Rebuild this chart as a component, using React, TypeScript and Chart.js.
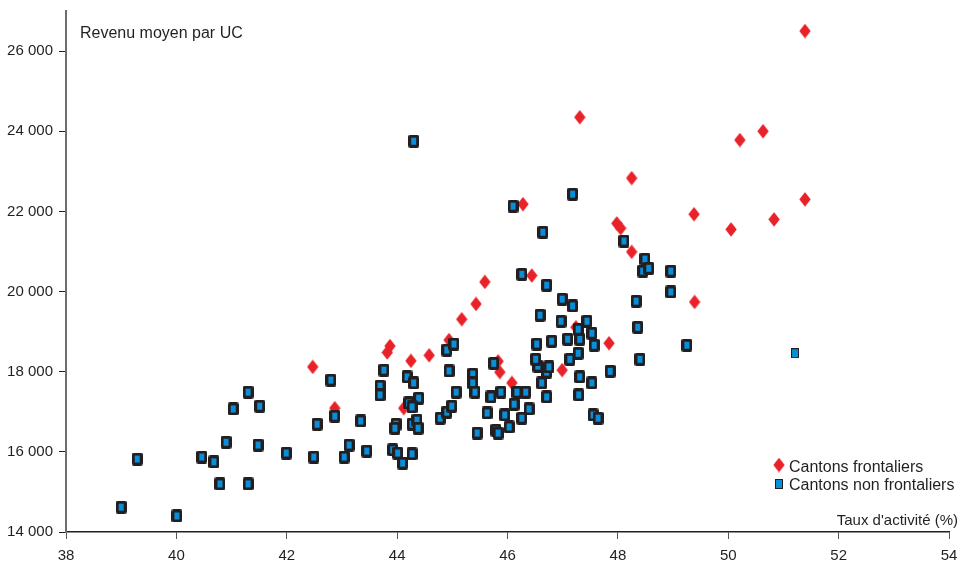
import React, { useEffect, useRef } from 'react';
import { Chart, registerables } from 'chart.js';

Chart.register(...registerables);

// Cantons frontaliers (red diamonds)
const frontaliersX = [51.39, 47.31, 50.21, 50.63, 48.25, 46.28, 49.38, 51.39, 47.98, 48.05, 50.05, 50.83, 48.25, 46.44, 45.59, 45.43, 45.17, 49.39, 47.24, 47.84, 43.87, 43.82, 44.58, 44.25, 42.47, 45.83, 45.86, 46.99, 46.08, 42.87, 44.12, 44.94];
const frontaliersY = [26500, 24350, 23780, 24000, 22830, 22180, 21930, 22300, 21700, 21580, 21550, 21800, 20990, 20400, 20240, 19690, 19310, 19740, 19110, 18710, 18640, 18480, 18410, 18270, 18120, 18260, 17990, 18040, 17720, 17090, 17090, 18790];

// Cantons non frontaliers (blue squares)
const nonFrontaliersX = [39.00, 39.29, 40.01, 40.46, 40.68, 40.79, 40.90, 41.03, 41.30, 41.30, 41.51, 41.48, 41.99, 42.49, 42.55, 42.80, 42.87, 43.34, 43.13, 43.04, 43.45, 43.76, 43.69, 43.69, 43.98, 43.96, 43.92, 44.01, 44.10, 44.27, 44.18, 44.30, 44.39, 44.21, 44.27, 44.27, 44.36, 44.38, 44.78, 44.90, 44.99, 44.94, 44.90, 45.03, 45.37, 45.37, 45.41, 45.45, 45.07, 45.75, 45.70, 45.88, 46.17, 46.33, 46.12, 46.39, 46.26, 45.63, 45.95, 46.03, 45.79, 45.83, 46.62, 46.71, 47.29, 47.53, 47.55, 47.64, 47.31, 47.86, 46.71, 46.75, 46.55, 46.51, 47.13, 47.28, 46.53, 46.80, 47.09, 47.31, 47.57, 47.53, 47.28, 47.44, 46.97, 46.59, 47.18, 46.99, 46.71, 46.26, 46.10, 46.64, 47.18, 44.30, 48.11, 48.49, 48.45, 48.56, 48.96, 48.96, 48.33, 48.36, 48.40, 49.25, 51.21];
const nonFrontaliersY = [14620, 15820, 14400, 15870, 15750, 15200, 16240, 17070, 17490, 15200, 17140, 16170, 15970, 15870, 16690, 17790, 16890, 16770, 16170, 15870, 16020, 18040, 17640, 17420, 16690, 16590, 16050, 15970, 15720, 15950, 17870, 17720, 17340, 17220, 17120, 16690, 16790, 16590, 16840, 16990, 17140, 18020, 18540, 18690, 17940, 17720, 17490, 16470, 17490, 18210, 17370, 17490, 17490, 17490, 17190, 17070, 16840, 16970, 16920, 16620, 16540, 16470, 17720, 17370, 17420, 17720, 16920, 16840, 17870, 18010, 17990, 18120, 18140, 18310, 18310, 18460, 18690, 18760, 18810, 18810, 18660, 18960, 19060, 19260, 19260, 19410, 19640, 19810, 20160, 20430, 22130, 21480, 22430, 23750, 21260, 20810, 20510, 20580, 20510, 19990, 19760, 19110, 18310, 18660, 18460];

const xTickValues = [38, 40, 42, 44, 46, 48, 50, 52, 54];
const yTickValues = [14000, 16000, 18000, 20000, 22000, 24000, 26000];

const seriesLabels = ['Cantons frontaliers', 'Cantons non frontaliers'];
const yTitle = 'Revenu moyen par UC';
const xTitle = "Taux d'activité (%)";

const RED = '#e92128';
const BLUE = '#0a8ed9';
const DARK = '#231f20';
const FONT = '"Liberation Sans", Arial, sans-serif';

function makeDiamond(): HTMLCanvasElement {
  const c = document.createElement('canvas');
  c.width = 12;
  c.height = 15;
  const g = c.getContext('2d')!;
  g.fillStyle = RED;
  g.beginPath();
  g.moveTo(6, 0.3);
  g.lineTo(11.7, 7.5);
  g.lineTo(6, 14.7);
  g.lineTo(0.3, 7.5);
  g.closePath();
  g.fill();
  return c;
}

function makeSquare(): HTMLCanvasElement {
  const c = document.createElement('canvas');
  c.width = 11;
  c.height = 13;
  const g = c.getContext('2d')!;
  g.fillStyle = DARK;
  g.beginPath();
  (g as any).roundRect ? (g as any).roundRect(0, 0, 11, 13, 2) : g.rect(0, 0, 11, 13);
  g.fill();
  g.fillStyle = BLUE;
  g.fillRect(3, 3, 5, 7);
  return c;
}

function makePlainSquare(): HTMLCanvasElement {
  const c = document.createElement('canvas');
  c.width = 8;
  c.height = 10;
  const g = c.getContext('2d')!;
  g.fillStyle = DARK;
  g.fillRect(0, 0, 8, 10);
  g.fillStyle = BLUE;
  g.fillRect(1, 1, 6, 8);
  return c;
}

const fmt = (v: number) => String(v).replace(/\B(?=(\d{3})+(?!\d))/g, ' ');

export default function App() {
  const ref = useRef<HTMLCanvasElement | null>(null);

  useEffect(() => {
    if (!ref.current) return;
    const diamond = makeDiamond();
    const square = makeSquare();
    const plain = makePlainSquare();
    const lastBlue = nonFrontaliersX.length - 1;

    const textPlugin = {
      id: 'texts',
      afterDraw(chart: any) {
        const ctx = chart.ctx;
        ctx.save();
        ctx.fillStyle = DARK;
        ctx.textBaseline = 'alphabetic';
        ctx.font = `16px ${FONT}`;
        ctx.textAlign = 'left';
        ctx.fillText(yTitle, 80, 38);
        ctx.font = `15px ${FONT}`;
        ctx.textAlign = 'right';
        ctx.fillText(xTitle, 958, 525);
        // legend
        ctx.drawImage(diamond, 779 - 6, 465 - 7.5);
        ctx.drawImage(plain, 779 - 4, 484 - 5);
        ctx.font = `16px ${FONT}`;
        ctx.textAlign = 'left';
        ctx.fillText(seriesLabels[0], 789, 471.5);
        ctx.fillText(seriesLabels[1], 789, 490);
        ctx.restore();
      },
    };

    const chart = new Chart(ref.current, {
      type: 'scatter',
      data: {
        datasets: [
          {
            label: seriesLabels[0],
            data: frontaliersX.map((x, i) => ({ x, y: frontaliersY[i] })),
            pointStyle: diamond as any,
            pointRadius: 7,
            order: 2,
          },
          {
            label: seriesLabels[1],
            data: nonFrontaliersX.map((x, i) => ({ x, y: nonFrontaliersY[i] })),
            pointStyle: ((c: any) => (c.dataIndex === lastBlue ? plain : square)) as any,
            pointRadius: 6,
            order: 1,
          },
        ],
      },
      options: {
        animation: false,
        responsive: false,
        maintainAspectRatio: false,
        layout: { padding: { top: 11, right: 12, left: 0, bottom: 0 } },
        plugins: { legend: { display: false }, tooltip: { enabled: false } },
        scales: {
          x: {
            type: 'linear',
            min: 38,
            max: 54,
            afterBuildTicks: (s: any) => {
              s.ticks = xTickValues.map((v) => ({ value: v }));
            },
            afterFit: (s: any) => {
              s.height = 31;
              s.paddingLeft = 0;
              s.paddingRight = 0;
              s.paddingTop = 0;
              s.paddingBottom = 0;
            },
            ticks: {
              stepSize: 2,
              color: DARK,
              font: { family: FONT, size: 15 },
              padding: 8,
              maxRotation: 0,
            },
            grid: {
              display: true,
              drawOnChartArea: false,
              drawTicks: true,
              tickLength: 7,
              tickColor: '#555555',
              tickWidth: 1,
            },
            border: { display: true, color: DARK, width: 1.5 },
          },
          y: {
            type: 'linear',
            min: 14000,
            max: 27000,
            afterBuildTicks: (s: any) => {
              s.ticks = yTickValues.map((v) => ({ value: v }));
            },
            afterFit: (s: any) => {
              s.width = 66;
              s.paddingLeft = 0;
              s.paddingRight = 0;
              s.paddingTop = 0;
              s.paddingBottom = 0;
            },
            ticks: {
              stepSize: 2000,
              includeBounds: false,
              color: DARK,
              font: { family: FONT, size: 15 },
              padding: 6,
              callback: (v: any) => fmt(Number(v)),
            },
            grid: {
              display: true,
              drawOnChartArea: false,
              drawTicks: true,
              tickLength: 7,
              tickColor: DARK,
              tickWidth: 1,
            },
            border: { display: true, color: '#6d6d6d', width: 2 },
          },
        },
      },
      plugins: [textPlugin],
    } as any);

    return () => chart.destroy();
  }, []);

  return (
    <div style={{ position: 'fixed', left: 0, top: 0, width: 961, height: 563, background: '#fff' }}>
      <canvas ref={ref} width={961} height={563} style={{ width: 961, height: 563, display: 'block' }} />
    </div>
  );
}
